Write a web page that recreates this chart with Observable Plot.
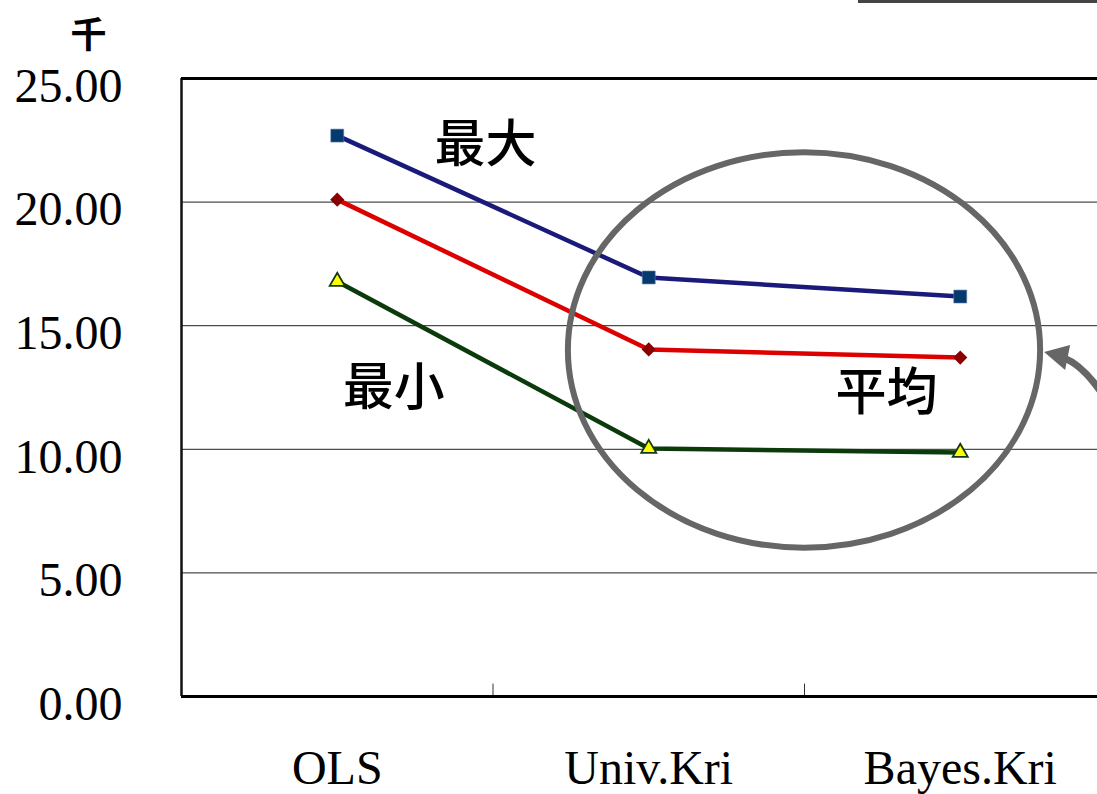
<!DOCTYPE html>
<html>
<head>
<meta charset="utf-8">
<script src="https://cdn.jsdelivr.net/npm/d3@7"></script>
<script src="https://cdn.jsdelivr.net/npm/@observablehq/plot@0.6"></script>
<style>
  html, body { margin: 0; padding: 0; background: #fff; overflow: hidden; }
  #wrap { position: relative; width: 1097px; height: 794px; overflow: hidden; }
  #wrap svg { max-width: none !important; }
  #legendEdge { position: absolute; left: 858px; top: 0px; width: 240px; height: 3px; background: #444; }
</style>
</head>
<body>
<div id="wrap"><div id="legendEdge"></div></div>
<script>
// Methods compared along the x axis
const methods = ["OLS", "Univ.Kri", "Bayes.Kri"];
// Values in thousands
const maxValues = [22.69, 16.95, 16.18];
const meanValues = [20.10, 14.04, 13.71];
const minValues = [16.79, 10.03, 9.87];
const seriesNames = ["最大", "平均", "最小"];
const yTicks = [0, 5, 10, 15, 20, 25];
const gridValues = [5, 10, 15, 20];
const unitLabel = "千";

// Series label placements (method index, value)
const seriesLabels = [
  {name: "最大", i: 0.476, v: 22.29},
  {name: "最小", i: 0.181, v: 12.46},
  {name: "平均", i: 1.763, v: 12.26}
];

const rows = (vals, name) => vals.map((v, i) => ({i, v, name}));
const maxRows = rows(maxValues, seriesNames[0]);
const meanRows = rows(meanValues, seriesNames[1]);
const minRows = rows(minValues, seriesNames[2]);

const serif = "'Liberation Serif', 'Times New Roman', serif";
const cjk = "'Noto Sans CJK JP', 'Noto Sans CJK SC', sans-serif";

const plot = Plot.plot({
  width: 1116,
  height: 794,
  marginLeft: 181,
  marginRight: 0.5,
  marginTop: 78,
  marginBottom: 98,
  style: {background: "transparent", overflow: "visible", maxWidth: "none"},
  x: {domain: [-0.5, methods.length - 0.5], axis: null},
  y: {domain: [0, 25], axis: null},
  marks: [
    Plot.ruleY(gridValues, {stroke: "#222", strokeWidth: 1}),
    // category separators on the baseline
    Plot.ruleX([0.5, 1.5], {y1: 0, y2: 0.5, stroke: "#333", strokeWidth: 1}),
    // plot frame
    Plot.ruleX([-0.5], {stroke: "#111", strokeWidth: 2.5}),
    Plot.ruleY([0], {stroke: "#000", strokeWidth: 3}),
    Plot.ruleY([25], {stroke: "#000", strokeWidth: 3}),
    // y tick labels
    Plot.text(yTicks, {x: -0.5, y: d => d, text: d => d3.format(".2f")(d), textAnchor: "end", dx: -59, dy: 8,
      fontSize: 48, fontFamily: serif, fill: "#000"}),
    // x labels
    Plot.text(methods, {x: (d, i) => i, y: 0, text: d => d, dy: 72, fontSize: 48, fontFamily: serif, fill: "#000"}),
    // unit
    Plot.text([unitLabel], {frameAnchor: "top-left", lineAnchor: "middle", dx: -111, dy: -42, fontSize: 36, fontWeight: "bold", fontFamily: cjk, fill: "#000"}),
    // series
    Plot.line(maxRows, {x: "i", y: "v", stroke: "#1a1a7a", strokeWidth: 4.5}),
    Plot.line(meanRows, {x: "i", y: "v", stroke: "#dd0000", strokeWidth: 4.5}),
    Plot.line(minRows, {x: "i", y: "v", stroke: "#0b3a0b", strokeWidth: 4.5}),
    Plot.dot(maxRows, {x: "i", y: "v", symbol: "square", r: 7.3, fill: "#063a6e", stroke: "#5a7fa8", strokeWidth: 0.6}),
    Plot.dot(meanRows, {x: "i", y: "v", symbol: "diamond2", r: 6.4, fill: "#8a0000", stroke: "none"}),
    Plot.dot(minRows, {x: "i", y: "v", symbol: "triangle", r: 5.6, fill: "#ffff00", stroke: "#123a12", strokeWidth: 1.8}),
    Plot.text(seriesLabels, {x: "i", y: "v", text: "name", fontSize: 51, fontWeight: 500, fontFamily: cjk, fill: "#000"})
  ]
});

document.getElementById("wrap").appendChild(plot);

// Highlight ring around the kriging results, with a pointer arrow
const sx = plot.scale("x"), sy = plot.scale("y");
const cx = sx.apply(1.5), cy = sy.apply(14.0);
const rx = sx.apply(1.5 + 0.758) - cx;
const ry = sy.apply(14.0 - 8.0) - cy;
const svg = d3.select(plot);
const g = svg.append("g").attr("fill", "none").attr("stroke", "#666");
g.append("ellipse").attr("cx", cx).attr("cy", cy).attr("rx", rx).attr("ry", ry).attr("stroke-width", 6);
const tipX = cx + rx + 4, tipY = cy + 2;
g.append("path")
  .attr("d", `M${tipX + 20},${tipY + 6} Q${tipX + 40},${tipY + 14} ${tipX + 60},${tipY + 45}`)
  .attr("stroke-width", 7);
svg.append("path")
  .attr("d", `M${tipX},${tipY} L${tipX + 26},${tipY - 7} L${tipX + 21},${tipY + 18} Z`)
  .attr("fill", "#666");
</script>
</body>
</html>
